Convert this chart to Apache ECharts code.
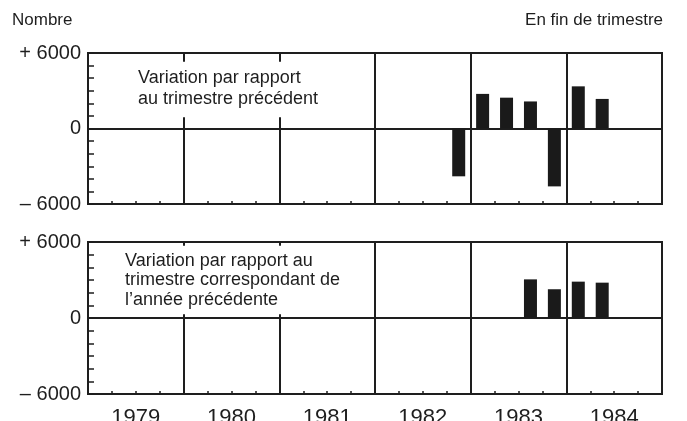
<!DOCTYPE html>
<html>
<head>
<meta charset="utf-8">
<script src="https://cdn.jsdelivr.net/npm/echarts@6/dist/echarts.min.js"></script>
<style>
  html, body { margin: 0; padding: 0; background: #fff; }
  #chart { width: 687px; height: 421px; }
</style>
</head>
<body>
<div id="chart"></div>
<script>
// years shown on the x axis, 4 quarters each
const years = ['1979', '1980', '1981', '1982', '1983', '1984']
// variation vs previous quarter (one value per quarter, null = no bar)
const qoqValues = [
  null, null, null, null,
  null, null, null, null,
  null, null, null, null,
  null, null, null, -3800,
  2750, 2450, 2150, -4600,
  3350, 2350, null, null
]
// variation vs same quarter of previous year
const yoyValues = [
  null, null, null, null,
  null, null, null, null,
  null, null, null, null,
  null, null, null, null,
  null, null, 3050, 2270,
  2870, 2790, null, null
]
const yTicks = [-6000, 0, 6000]

const ink = '#1e1e1e'
const font = 'Liberation Sans'
const nQuarters = years.length * 4

const chart = echarts.init(document.getElementById('chart'))

function toPoints(values) {
  const pts = []
  values.forEach((v, i) => {
    if (v !== null) pts.push([i + 0.5, v])
  })
  return pts
}

// year dividers: the first two are broken where the caption sits
function dividers(gapTop, tickEnd) {
  const lines = []
  for (let y = 1; y < years.length; y++) {
    const x = y * 4
    if (y <= 2) {
      lines.push([{ coord: [x, 6000] }, { coord: [x, tickEnd] }])
      lines.push([{ coord: [x, gapTop] }, { coord: [x, -6000] }])
    } else {
      lines.push([{ coord: [x, 6000] }, { coord: [x, -6000] }])
    }
  }
  return lines
}

function xAxis(gridIndex, showLabels) {
  return {
    type: 'value',
    gridIndex: gridIndex,
    position: 'bottom',
    min: 0,
    max: nQuarters,
    interval: 1,
    axisLine: { show: false, onZero: false },
    axisTick: { show: true, inside: true, length: 3, lineStyle: { color: ink, width: 1.5 } },
    splitLine: { show: false },
    axisLabel: {
      show: showLabels,
      margin: 13,
      color: ink,
      fontFamily: font,
      fontSize: 22,
      formatter: v => (v % 4 === 2 ? years[(v - 2) / 4] : '')
    }
  }
}

function yAxis(gridIndex) {
  return {
    type: 'value',
    gridIndex: gridIndex,
    min: yTicks[0],
    max: yTicks[2],
    interval: 6000,
    axisLine: { show: false, onZero: false },
    axisTick: { show: true, inside: true, length: 6, lineStyle: { color: ink, width: 1.5 } },
    minorTick: { show: true, splitNumber: 6, length: 6, lineStyle: { color: ink, width: 1.5 } },
    splitLine: { show: true, lineStyle: { color: ink, width: 2 } },
    axisLabel: {
      margin: 7,
      color: ink,
      fontFamily: font,
      fontSize: 20,
      formatter: v => (v > 0 ? '+ ' + v : v < 0 ? '\u2013 ' + Math.abs(v) : '0')
    }
  }
}

function barSeries(index, values, gapTop, tickEnd) {
  return {
    type: 'bar',
    xAxisIndex: index,
    yAxisIndex: index,
    barWidth: 13,
    itemStyle: { color: '#1a1a1a' },
    data: toPoints(values),
    markLine: {
      silent: true,
      symbol: 'none',
      label: { show: false },
      lineStyle: { color: ink, width: 2, type: 'solid' },
      data: dividers(gapTop, tickEnd)
    }
  }
}

chart.setOption({
  animation: false,
  backgroundColor: '#fff',
  grid: [
    { left: 88, right: 25, top: 53, height: 151, show: true, borderColor: ink, borderWidth: 2, outerBoundsMode: 'none', containLabel: false },
    { left: 88, right: 25, top: 242, height: 152, show: true, borderColor: ink, borderWidth: 2, outerBoundsMode: 'none', containLabel: false }
  ],
  xAxis: [xAxis(0, false), xAxis(1, true)],
  yAxis: [yAxis(0), yAxis(1)],
  graphic: [
    { type: 'text', left: 12, top: 12, style: { text: 'Nombre', font: '17px ' + font, fill: ink } },
    { type: 'text', right: 24, top: 12, style: { text: 'En fin de trimestre', font: '17px ' + font, fill: ink } },
    {
      type: 'text', left: 138, top: 68,
      style: { text: 'Variation par rapport\nau trimestre précédent', font: '18px ' + font, lineHeight: 21, fill: ink }
    },
    {
      type: 'text', left: 125, top: 251,
      style: { text: 'Variation par rapport au\ntrimestre correspondant de\nl\u2019année précédente', font: '18px ' + font, lineHeight: 19.5, fill: ink }
    }
  ],
  series: [
    barSeries(0, qoqValues, 900, 5300),
    barSeries(1, yoyValues, 300, 5700)
  ]
})
</script>
</body>
</html>
